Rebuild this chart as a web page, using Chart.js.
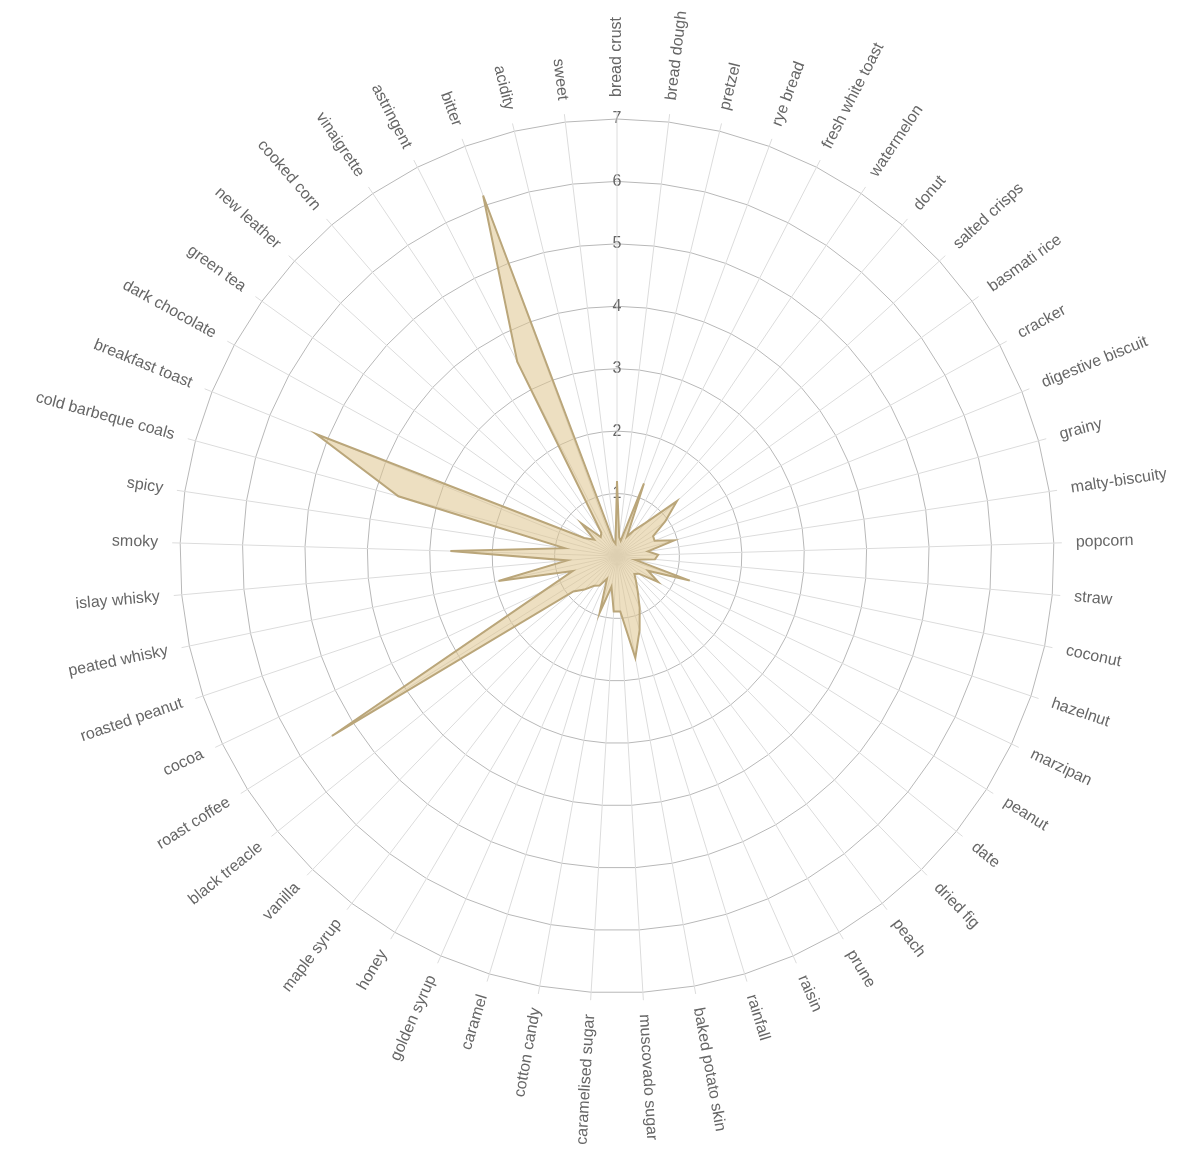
<!DOCTYPE html>
<html lang="en">
<head>
  <meta charset="UTF-8" />
  <title>Flavour Profile Radar</title>
  <script src="https://cdn.jsdelivr.net/npm/chart.js"></script>
  <style>
    html, body { margin: 0; padding: 0; background: #fff; overflow: hidden; }
    #wrap { width: 1197px; height: 1154px; }
  </style>
</head>
<body>
<div id="wrap"><canvas id="radarChart"></canvas></div>

<script>
  // flavour axes, clockwise from the top
  const flavours = [
    "bread crust", "bread dough", "pretzel", "rye bread", "fresh white toast", "watermelon",
    "donut", "salted crisps", "basmati rice", "cracker", "digestive biscuit", "grainy",
    "malty-biscuity", "popcorn", "straw", "coconut", "hazelnut", "marzipan", "peanut",
    "date", "dried fig", "peach", "prune", "raisin", "rainfall", "baked potato skin",
    "muscovado sugar", "caramelised sugar", "cotton candy", "caramel", "golden syrup",
    "honey", "maple syrup", "vanilla", "black treacle", "roast coffee", "cocoa",
    "roasted peanut", "peated whisky", "islay whisky", "smoky", "spicy",
    "cold barbeque coals", "breakfast toast", "dark chocolate", "green tea", "new leather",
    "cooked corn", "vinaigrette", "astringent", "bitter", "acidity", "sweet"
  ];

  // scores
  const scores = [
    1.2, 0.3, 0.25, 1.24, 0.35, 0.5,
    0.7, 1.3, 0.95, 0.66, 0.65, 0.95,
    0.5, 0.66, 0.61, 0.3, 1.23, 0.55, 0.78,
    0.45, 0.4, 0.5, 0.65, 0.9, 1.24, 1.66,
    0.89, 0.89, 0.5, 0.95, 0.4,
    0.55, 0.6, 0.75, 0.9, 5.4, 1.3,
    0.75, 1.94, 0.8, 2.67, 0.85,
    3.63, 5.2, 0.6, 0.45, 0.77,
    0.4, 0.45, 3.5, 6.16, 0.25, 0.2
  ];

  const tickValues = [1, 2, 3, 4, 5, 6, 7];

  const FONT = '"Helvetica Neue", Helvetica, Arial, "Liberation Sans", sans-serif';

  // spokes run a little past the outer ring, labels are turned along the spoke
  const spokesAndLabels = {
    id: 'spokesAndLabels',
    beforeDatasetsDraw(chart) {
      const r = chart.scales.r;
      const ctx = chart.ctx;
      ctx.save();
      ctx.strokeStyle = '#dcdcdc';
      ctx.lineWidth = 1;
      for (let i = 0; i < flavours.length; i++) {
        const p = r.getPointPosition(i, r.drawingArea + 8);
        ctx.beginPath();
        ctx.moveTo(r.xCenter, r.yCenter);
        ctx.lineTo(p.x, p.y);
        ctx.stroke();
      }
      ctx.restore();
    },
    afterDraw(chart) {
      const r = chart.scales.r;
      const ctx = chart.ctx;
      ctx.save();
      ctx.font = '16px ' + FONT;
      ctx.fillStyle = '#666';
      ctx.textBaseline = 'middle';
      for (let i = 0; i < flavours.length; i++) {
        const a = r.getIndexAngle(i);
        const p = r.getPointPosition(i, r.drawingArea + 22);
        ctx.save();
        ctx.translate(p.x, p.y);
        if (a < Math.PI - 1e-6) {
          ctx.rotate(a - Math.PI / 2);
          ctx.textAlign = 'left';
        } else {
          ctx.rotate(a + Math.PI / 2);
          ctx.textAlign = 'right';
        }
        ctx.fillText(flavours[i], 0, 0);
        ctx.restore();
      }
      ctx.restore();
    }
  };

  const ctx = document.getElementById('radarChart').getContext('2d');
  new Chart(ctx, {
    type: 'radar',
    data: {
      labels: flavours,
      datasets: [{
        label: 'Flavour profile',
        data: scores,
        backgroundColor: 'rgba(222, 196, 142, 0.55)',
        borderColor: 'rgb(186, 166, 122)',
        borderWidth: 2,
        pointRadius: 0,
        pointHoverRadius: 0,
        tension: 0
      }]
    },
    options: {
      responsive: true,
      maintainAspectRatio: false,
      animation: false,
      // the radial scale keeps another 10px per side for tick labels
      layout: { padding: { left: 170, right: 132, top: 109, bottom: 150 } },
      plugins: {
        legend: { display: false },
        tooltip: { enabled: false }
      },
      scales: {
        r: {
          min: 0,
          max: 7,
          afterBuildTicks(scale) {
            scale.ticks = [0].concat(tickValues).map(v => ({ value: v }));
          },
          ticks: {
            stepSize: 1,
            color: '#666',
            font: { size: 16, family: FONT },
            showLabelBackdrop: false
          },
          grid: { color: '#b8b8b8', lineWidth: 1 },
          angleLines: { display: false },
          pointLabels: { display: false }
        }
      }
    },
    plugins: [spokesAndLabels]
  });
</script>
</body>
</html>
